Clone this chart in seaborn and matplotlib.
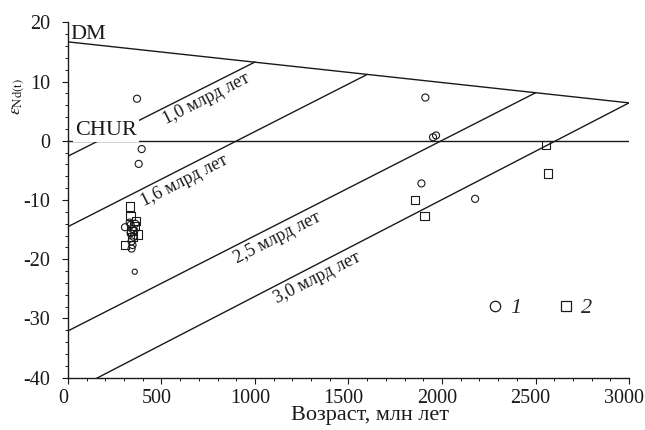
import numpy as np
import pandas as pd
import matplotlib
matplotlib.use("Agg")
import matplotlib.pyplot as plt
import matplotlib.transforms as mtransforms
import seaborn as sns
from matplotlib.lines import Line2D
from matplotlib.ticker import MultipleLocator

# sample data (age in Ma, eps Nd(t))
circle_age = [369, 394, 378, 1911, 1952, 1968, 1890, 2177,
              305, 330, 345, 335, 350, 340, 345, 340, 355, 335, 360]
circle_eps = [7.1, -1.4, -3.9, 7.3, 0.6, 0.9, -7.2, -9.8,
              -14.6, -13.8, -14.9, -15.6, -16.2, -17.0, -17.6, -18.2, -15.2, -14.2, -14.0]
small_circle_age = [357]
small_circle_eps = [-22.1]
square_age = [1854, 1907, 2556, 2568, 330, 335, 365, 375, 305, 345, 355, 340]
square_eps = [-10.05, -12.7, -0.7, -5.55, -11.1, -12.7, -13.5, -15.8, -17.6, -16.3, -14.4, -15.2]

# reference lines
dm_age = [0, 3000]
dm_eps = [16.7, 6.4]
chur_age = [0, 3000]
chur_eps = [0, 0]
model_age = [1000, 1600, 2500, 3000]
model_eps_start = [-2.6, -14.5, -32.1, -42.6]
model_eps_end = [13.3, 11.2, 8.1, 6.4]
model_labels = ["1,0 млрд лет", "1,6 млрд лет", "2,5 млрд лет", "3,0 млрд лет"]
label_x = [740, 623, 1119, 1332]
label_y = [7.1, -6.8, -16.4, -23.2]

sns.set_style("ticks")
plt.rcParams['font.family'] = ['Liberation Serif', 'DejaVu Serif']
plt.rcParams['mathtext.fontset'] = 'stix'
plt.rcParams['axes.unicode_minus'] = False

ink = '#1a1a1a'

fig = plt.figure(figsize=(6.45, 4.3), dpi=100)
ax = fig.add_axes([0.1054, 0.1216, 0.8698, 0.8265])

# DM, CHUR and model-age lines
sns.lineplot(x=dm_age, y=dm_eps, ax=ax, color=ink, lw=1.0, sort=False)
sns.lineplot(x=chur_age, y=chur_eps, ax=ax, color=ink, lw=1.0, sort=False)
for t, e0, e1 in zip(model_age, model_eps_start, model_eps_end):
    sns.lineplot(x=[0, t], y=[e0, e1], ax=ax, color=ink, lw=1.0, sort=False)

# samples
sns.scatterplot(x=circle_age, y=circle_eps, ax=ax, marker='o', s=26,
                color=ink, facecolor='none', edgecolor=ink, linewidth=0.8, zorder=3)
sns.scatterplot(x=small_circle_age, y=small_circle_eps, ax=ax, marker='o', s=14,
                color=ink, facecolor='none', edgecolor=ink, linewidth=0.8, zorder=3)
sns.scatterplot(x=square_age, y=square_eps, ax=ax, marker='s', s=36,
                color=ink, facecolor='none', edgecolor=ink, linewidth=0.8, zorder=3)

# line labels
slope_deg = np.degrees(np.arctan(0.0161))
for lab, lx, ly in zip(model_labels, label_x, label_y):
    ax.text(lx, ly, lab, fontsize=13, color=ink, ha='center', va='center',
            rotation=slope_deg, rotation_mode='anchor', transform_rotates_text=True)

ax.text(12, 17.2, "DM", fontsize=16, color=ink, ha='left', va='baseline')
ax.text(37, 1.0, "CHUR", fontsize=16, color=ink, ha='left', va='baseline', zorder=4,
        bbox=dict(facecolor='white', edgecolor='none', pad=1.5))

ax.set_xlim(0, 3000)
ax.set_ylim(-40, 20)
ax.xaxis.set_major_locator(MultipleLocator(500))
ax.xaxis.set_minor_locator(MultipleLocator(100))
ax.yaxis.set_major_locator(MultipleLocator(10))
ax.yaxis.set_minor_locator(MultipleLocator(2))
ax.tick_params(which='major', direction='out', length=4, width=0.8, color=ink,
               labelsize=14.5, labelcolor=ink)
ax.tick_params(axis='x', which='major', pad=4)
ax.tick_params(axis='y', which='major', pad=9)
ax.tick_params(which='minor', direction='out', length=2.2, width=0.7, color=ink)
sns.despine(ax=ax)
for sp in ['left', 'bottom']:
    ax.spines[sp].set_color(ink)
    ax.spines[sp].set_linewidth(1.0)

# x tick labels sit a little left of their ticks in the original
shift = mtransforms.ScaledTranslation(-5 / 100, 0, fig.dpi_scale_trans)
for lbl in ax.get_xticklabels():
    lbl.set_transform(lbl.get_transform() + shift)

ax.set_xlabel("Возраст, млн лет", fontsize=16, color=ink)
ax.xaxis.set_label_coords(0.538, -0.08)
ax.set_ylabel(r'$\varepsilon_{\mathrm{Nd(t)}}$', fontsize=13, color=ink)
ax.yaxis.set_label_coords(-0.0726, 0.79)

handles = [Line2D([], [], ls='none', marker='o', ms=7.5, mfc='none', mec=ink, mew=0.9, label='1'),
           Line2D([], [], ls='none', marker='s', ms=7.0, mfc='none', mec=ink, mew=0.9, label='2')]
ax.legend(handles=handles, ncol=2, frameon=False, loc='center left',
          bbox_to_anchor=(0.746, 0.196), borderpad=0, borderaxespad=0,
          handlelength=0.8, handletextpad=0.25, columnspacing=1.63,
          prop={'family': 'Liberation Serif', 'style': 'italic', 'size': 16})

fig.savefig("out.png", dpi=100)
